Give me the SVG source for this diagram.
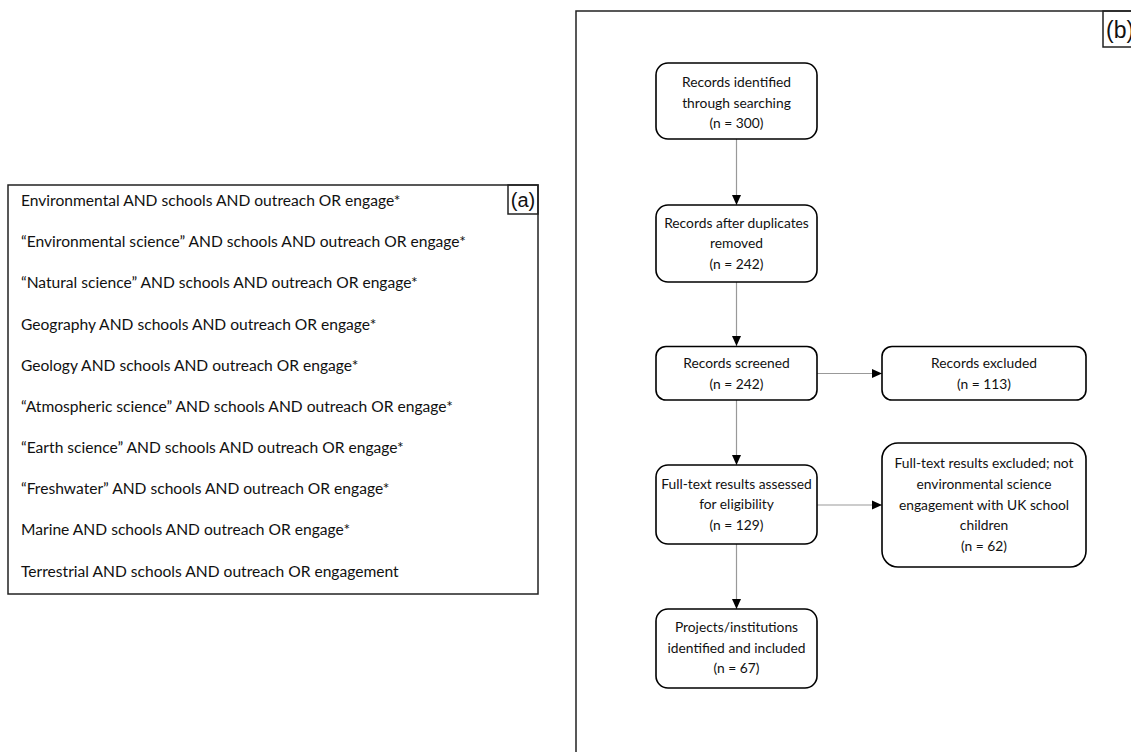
<svg xmlns="http://www.w3.org/2000/svg" width="1131" height="752" viewBox="0 0 1131 752">
<style>
.panel{fill:none;stroke:#222;stroke-width:1.5}
.node{fill:#fff;stroke:#000;stroke-width:1.6}
.t{font-family:Lato,"Open Sans",sans-serif;font-size:13.8px;fill:#111;text-anchor:middle}
.q{font-family:Lato,"Open Sans",sans-serif;font-size:15.6px;fill:#111}
.lab{font-family:"Liberation Sans",Arial,sans-serif;fill:#111}
.edge{stroke:#999;stroke-width:1.2;fill:none}
</style>
<defs>
<marker id="ah" viewBox="0 0 10 10" refX="10" refY="5" markerWidth="10" markerHeight="10" markerUnits="userSpaceOnUse" orient="auto">
<path d="M0,0.5 L10,5 L0,9.5 Z" fill="#000"/>
</marker>
</defs>
<rect width="1131" height="752" fill="#fff"/>
<g id="panel-a">
<rect class="panel" x="8" y="185" width="530" height="409"/>
<rect class="panel" x="508" y="185" width="30" height="29"/>
<text class="lab" x="523" y="207" font-size="20" text-anchor="middle">(a)</text>
<text class="q" x="21" y="206">Environmental AND schools AND outreach OR engage*</text>
<text class="q" x="21" y="247">“Environmental science” AND schools AND outreach OR engage*</text>
<text class="q" x="21" y="288">“Natural science” AND schools AND outreach OR engage*</text>
<text class="q" x="21" y="329.5">Geography AND schools AND outreach OR engage*</text>
<text class="q" x="21" y="370.5">Geology AND schools AND outreach OR engage*</text>
<text class="q" x="21" y="411.5">“Atmospheric science” AND schools AND outreach OR engage*</text>
<text class="q" x="21" y="453">“Earth science” AND schools AND outreach OR engage*</text>
<text class="q" x="21" y="494">“Freshwater” AND schools AND outreach OR engage*</text>
<text class="q" x="21" y="535">Marine AND schools AND outreach OR engage*</text>
<text class="q" x="21" y="576.5">Terrestrial AND schools AND outreach OR engagement</text>
</g>
<g id="panel-b">
<rect class="panel" x="576" y="11" width="600" height="800"/>
<rect class="panel" x="1103" y="11" width="40" height="36"/>
<text class="lab" x="1106" y="38" font-size="23">(b)</text>
</g>
<g id="connectors">
<line class="edge" x1="736.5" y1="139" x2="736.5" y2="205" marker-end="url(#ah)"/>
<line class="edge" x1="736.5" y1="282" x2="736.5" y2="346" marker-end="url(#ah)"/>
<line class="edge" x1="736.5" y1="400" x2="736.5" y2="465" marker-end="url(#ah)"/>
<line class="edge" x1="736.5" y1="544" x2="736.5" y2="609" marker-end="url(#ah)"/>
<line class="edge" x1="817" y1="373.5" x2="882" y2="373.5" marker-end="url(#ah)"/>
<line class="edge" x1="817" y1="505" x2="882" y2="505" marker-end="url(#ah)"/>
</g>
<g id="n1">
<rect class="node" x="656" y="63" width="161" height="76" rx="12"/>
<text class="t" x="736.5" y="87">Records identified</text>
<text class="t" x="736.5" y="107.5">through searching</text>
<text class="t" x="736.5" y="128">(n = 300)</text>
</g>
<g id="n2">
<rect class="node" x="656" y="205" width="161" height="77" rx="12"/>
<text class="t" x="736.5" y="227.5">Records after duplicates</text>
<text class="t" x="736.5" y="248">removed</text>
<text class="t" x="736.5" y="268.5">(n = 242)</text>
</g>
<g id="n3">
<rect class="node" x="656" y="346.5" width="161" height="53.5" rx="10"/>
<text class="t" x="736.5" y="368">Records screened</text>
<text class="t" x="736.5" y="389">(n = 242)</text>
</g>
<g id="n4">
<rect class="node" x="882" y="346.5" width="204" height="53.5" rx="10"/>
<text class="t" x="984" y="368">Records excluded</text>
<text class="t" x="984" y="389">(n = 113)</text>
</g>
<g id="n5">
<rect class="node" x="656" y="465" width="161" height="79" rx="12"/>
<text class="t" x="736.5" y="488.5">Full-text results assessed</text>
<text class="t" x="736.5" y="509">for eligibility</text>
<text class="t" x="736.5" y="529.5">(n = 129)</text>
</g>
<g id="n6">
<rect class="node" x="882" y="443" width="204" height="124" rx="16"/>
<text class="t" x="984" y="468">Full-text results excluded; not</text>
<text class="t" x="984" y="489">environmental science</text>
<text class="t" x="984" y="509.5">engagement with UK school</text>
<text class="t" x="984" y="530">children</text>
<text class="t" x="984" y="550.5">(n = 62)</text>
</g>
<g id="n7">
<rect class="node" x="656" y="609" width="161" height="79" rx="12"/>
<text class="t" x="736.5" y="632">Projects/institutions</text>
<text class="t" x="736.5" y="652.5">identified and included</text>
<text class="t" x="736.5" y="673">(n = 67)</text>
</g>
</svg>
